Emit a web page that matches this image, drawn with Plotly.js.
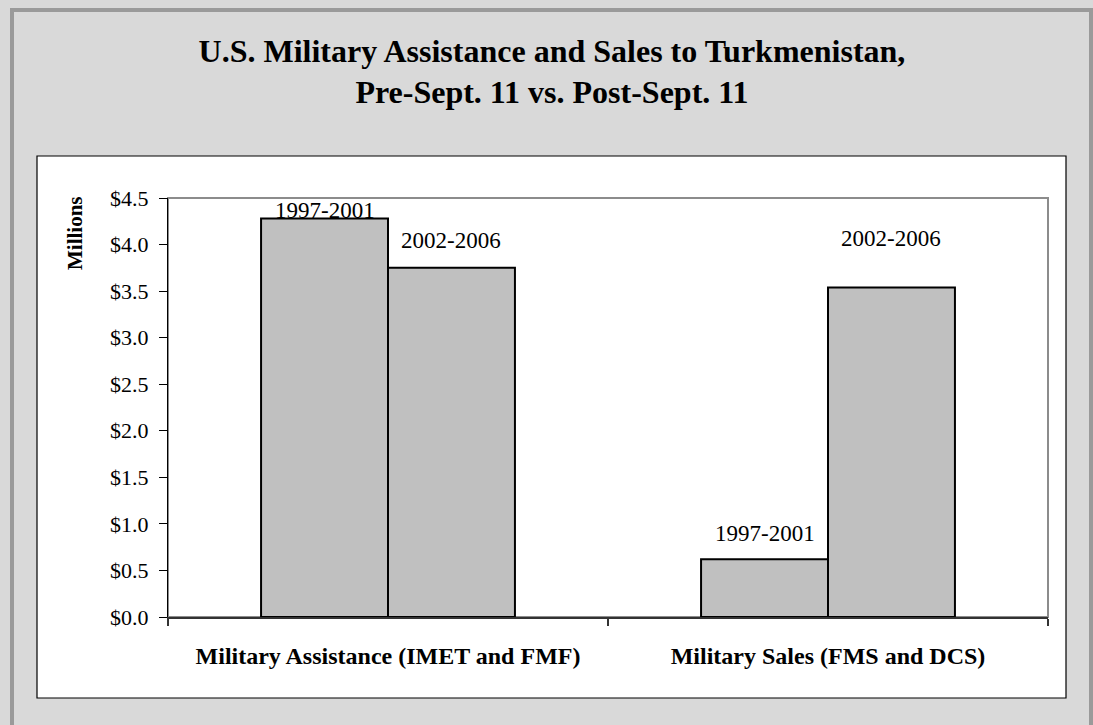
<!DOCTYPE html>
<html>
<head>
<meta charset="utf-8">
<script src="https://cdn.plot.ly/plotly-3.0.1.min.js"></script>
<style>
  html, body { margin: 0; padding: 0; background: #d9d9d9; }
  #chart { width: 1093px; height: 725px; }
</style>
</head>
<body>
<div id="chart"></div>
<script>
// ---- data ----
const categories = ['Military Assistance (IMET and FMF)', 'Military Sales (FMS and DCS)'];
const periods = ['1997-2001', '2002-2006'];
const pre911 = [4.28, 0.62];
const post911 = [3.75, 3.54];
const yTickVals = [0, 0.5, 1.0, 1.5, 2.0, 2.5, 3.0, 3.5, 4.0, 4.5];

// ---- styling / layout ----
const W = 1093, H = 725;
const M = { l: 168, r: 45, t: 198, b: 108 };
const plotW = W - M.l - M.r, plotH = H - M.t - M.b;
const px = v => (v - M.l) / plotW;          // pixel x -> paper x
const py = v => (H - M.b - v) / plotH;      // pixel y -> paper y
const serif = 'Liberation Serif, Times New Roman, serif';
const bargap = 0.423;
const barPx = plotW / categories.length * (1 - bargap) / 2;
const labelShift = [[8, 26], [27, 49]]; // [series][category] px above bar top

const series = [pre911, post911];
const traces = series.map((vals, i) => ({
  type: 'bar',
  name: periods[i],
  x: categories,
  y: vals,
  marker: { color: '#c0c0c0', line: { color: '#000000', width: 2 } },
  hoverinfo: 'skip'
}));

const annotations = [];
series.forEach((vals, i) => {
  vals.forEach((v, j) => {
    annotations.push({
      x: categories[j], y: v, xref: 'x', yref: 'y',
      xshift: (i === 0 ? -1 : 1) * barPx / 2,
      yshift: labelShift[i][j],
      text: periods[i], showarrow: false,
      xanchor: 'center', yanchor: 'middle',
      font: { family: serif, size: 23, color: '#000' }
    });
  });
});
annotations.push({
  xref: 'paper', yref: 'paper', x: px(75), y: py(233),
  text: '<b>Millions</b>', textangle: -90, showarrow: false,
  xanchor: 'center', yanchor: 'middle',
  font: { family: serif, size: 21, color: '#000' }
});

const shapes = [
  // outer frame
  { type: 'rect', xref: 'paper', yref: 'paper', layer: 'below',
    x0: px(12), x1: px(1091), y0: py(760), y1: py(10),
    line: { color: '#9a9a9a', width: 4 }, fillcolor: 'rgba(0,0,0,0)' },
  // white inner panel
  { type: 'rect', xref: 'paper', yref: 'paper', layer: 'below',
    x0: px(37), x1: px(1066), y0: py(698), y1: py(156),
    line: { color: '#000', width: 1.2 }, fillcolor: '#ffffff' },
  // plot area border (gray)
  { type: 'rect', xref: 'paper', yref: 'paper', layer: 'below',
    x0: 0, x1: 1, y0: 0, y1: 1,
    line: { color: '#8c8c8c', width: 2 }, fillcolor: '#ffffff' }
];

const layout = {
  width: W, height: H,
  margin: M,
  paper_bgcolor: '#d9d9d9',
  plot_bgcolor: 'rgba(0,0,0,0)',
  showlegend: false,
  barmode: 'group',
  bargap: bargap,
  bargroupgap: 0,
  title: {
    text: '<b>U.S. Military Assistance and Sales to Turkmenistan,<br>Pre-Sept. 11 vs. Post-Sept. 11</b>',
    font: { family: serif, size: 32, color: '#000' },
    x: 0.505, xanchor: 'center', xref: 'container',
    y: 0.915, yanchor: 'top', yref: 'container'
  },
  xaxis: {
    type: 'category',
    tickson: 'boundaries',
    ticks: 'outside', ticklen: 7, tickwidth: 1.2, tickcolor: '#333',
    showline: true, linecolor: '#333', linewidth: 2,
    showgrid: false, zeroline: false,
    tickfont: { family: serif, size: 24, color: '#000', weight: 'bold' },
    ticklabelstandoff: 16,
    tickvals: categories,
    ticktext: categories.map(c => '<b>' + c + '</b>'),
    fixedrange: true
  },
  yaxis: {
    range: [0, 4.5],
    tickvals: yTickVals,
    tickformat: '$.1f',
    ticks: 'outside', ticklen: 8, tickwidth: 1, tickcolor: '#000',
    showline: true, linecolor: '#000', linewidth: 1,
    showgrid: false, zeroline: false,
    tickfont: { family: serif, size: 22, color: '#000' },
    ticklabelstandoff: 6,
    fixedrange: true
  },
  annotations: annotations,
  shapes: shapes
};

Plotly.newPlot('chart', traces, layout, { displayModeBar: false, staticPlot: true });
</script>
</body>
</html>
